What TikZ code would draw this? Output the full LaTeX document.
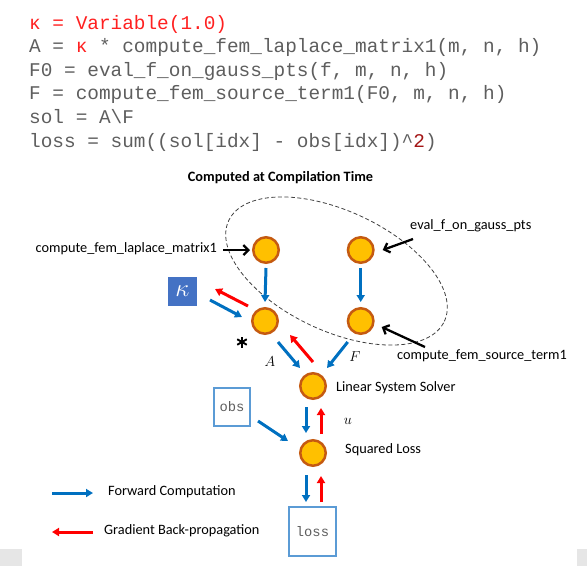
\documentclass[tikz,border=0pt]{standalone}
\usepackage{fontspec}
\setmainfont{Carlito}
\newfontfamily\codefont{Liberation Mono}
\usetikzlibrary{arrows.meta,shapes.geometric,calc}
\definecolor{fwdblue}{HTML}{0070C0}
\definecolor{backred}{HTML}{FF0000}
\definecolor{nodefill}{HTML}{FFC000}
\definecolor{nodeborder}{HTML}{C55A11}
\definecolor{boxblue}{HTML}{5B9BD5}
\definecolor{kapblue}{HTML}{4472C4}
\definecolor{codegray}{HTML}{5E5E5E}
\definecolor{codered}{HTML}{FF2020}
\definecolor{numred}{HTML}{A31515}
\definecolor{bargray}{HTML}{E6E6E6}
\tikzset{
  op/.style={circle,fill=nodefill,draw=nodeborder,line width=2.5pt,minimum size=25.5pt,inner sep=0pt},
  codeline/.style={anchor=base west,inner sep=0pt,text=codegray,font=\codefont\fontsize{19.4}{23.6}\selectfont},
  lbl/.style={inner sep=0pt,font=\fontsize{14.3}{17}\selectfont},
  mlbl/.style={inner sep=0pt,font=\fontsize{14.3}{17}\selectfont},
  varbox/.style={draw=boxblue,line width=1.2pt,inner sep=0pt,text=codegray,font=\codefont\fontsize{13.8}{16}\selectfont},
  fwd/.style={draw=fwdblue,line width=3pt,-{Triangle[length=7pt,width=8pt]}},
  bwd/.style={draw=backred,line width=3pt,-{Triangle[length=7pt,width=8pt]}},
  blk/.style={draw=black,line width=2.3pt,-{Straight Barb[length=5pt,width=10pt]}},
  spoke/.style={draw=black,line width=1.9pt},
}
\begin{document}
\begin{tikzpicture}[x=1pt,y=-1pt]
\useasboundingbox (0,0) rectangle (587,566);
% bottom gray bars
\fill[bargray] (0,549) rectangle (22,566);
\fill[bargray] (577,549) rectangle (587,566);
% code
\node[codeline] (c1) at (29,29) {\textcolor{codered}{κ = Variable(1.0)}};
\node[codeline] (c2) at (29,52.6) {A = \textcolor{codered}{κ} * compute\_fem\_laplace\_matrix1(m, n, h)};
\node[codeline] (c3) at (29,76.2) {F0 = eval\_f\_on\_gauss\_pts(f, m, n, h)};
\node[codeline] (c4) at (29,99.8) {F = compute\_fem\_source\_term1(F0, m, n, h)};
\node[codeline] (c5) at (29,123.4) {sol = A\textbackslash F};
\node[codeline] (c6) at (29,147) {loss = sum((sol[idx] - obs[idx])\textasciicircum\textcolor{numred}{2})};
% title
\node[lbl,font=\bfseries\fontsize{14.3}{17}\selectfont,anchor=mid] (title) at (280.5,179) {Computed at Compilation Time};
% ellipse
\node[draw=black!75,dashed,dash pattern=on 4pt off 2.5pt,line width=0.8pt,ellipse,minimum width=238pt,minimum height=120pt,inner sep=0pt,rotate=-25] (ell) at (336.5,271) {};
% operation nodes
\node[op] (n1) at (266,250) {};
\node[op] (n2) at (360.7,250) {};
\node[op] (n3) at (265,321) {};
\node[op] (n4) at (360.7,321) {};
\node[op] (n5) at (313,386) {};
\node[op] (n6) at (313,453) {};
% boxes
\node[fill=kapblue,minimum size=29pt,inner sep=0pt,text=white,font=\fontsize{32}{32}\selectfont] (kap) at (182.5,291.5) {$\kappa$};
\node[varbox,minimum width=36pt,minimum height=38pt] (obs) at (232,407) {obs};
\node[varbox,minimum width=47pt,minimum height=49pt] (lossb) at (312.5,531.5) {loss};
% labels
\node[lbl,anchor=mid east] (lapl) at (217,250) {compute\_fem\_laplace\_matrix1};
\node[lbl,anchor=mid west] (evl) at (410,227) {eval\_f\_on\_gauss\_pts};
\node[lbl,anchor=mid west] (src) at (397,357) {compute\_fem\_source\_term1};
\node[lbl,anchor=mid west] (lss) at (336,389) {Linear System Solver};
\node[lbl,anchor=mid west] (sql) at (345,451) {Squared Loss};
\node[mlbl] (lA) at (270,362) {$A$};
\node[mlbl] (lF) at (355,357) {$F$};
\node[mlbl] (lu) at (348,421) {$u$};
% asterisk (multiplication mark)
\coordinate (ast) at (242,342);
\foreach \a in {90,30,150}{
  \draw[spoke] ([shift={(\a:5.5)}]ast) -- ([shift={(\a+180:5.5)}]ast);
}
% legend
\node[lbl,anchor=mid west] (fwdl) at (108,493) {Forward Computation};
\node[lbl,anchor=mid west] (bwdl) at (104,532) {Gradient Back-propagation};
% black pointer arrows
\draw[blk] ([xshift=6pt]lapl.mid east) -- ([xshift=-2pt]n1.west);
\draw[blk] ([shift={(3,12)}]evl.mid west) -- ([shift={(22,0)}]n2.center);
\draw[blk] ([shift={(28,-10)}]src.mid west) -- ([shift={(21,6)}]n4.center);
% vertical forward arrows in ellipse
\draw[fwd] ([shift={(0,18)}]n1.center) -- ([shift={(0,-19)}]n3.center);
\draw[fwd] ([shift={(0,18)}]n2.center) -- ([shift={(0,-19)}]n4.center);
% kappa <-> n3
\draw[fwd] ([shift={(27.5,8.5)}]kap.center) -- ([shift={(-23,-4)}]n3.center);
\draw[bwd] ([shift={(-17,-15)}]n3.center) -- ([shift={(32.5,-2.5)}]kap.center);
% n3, n4 -> n5
\draw[fwd] ([shift={(13,21)}]n3.center) -- ([shift={(-13,-18)}]n5.center);
\draw[bwd] ([shift={(0,-24)}]n5.center) -- ([shift={(25,14)}]n3.center);
\draw[fwd] ([shift={(-13,21)}]n4.center) -- ([shift={(14,-18)}]n5.center);
% n5 <-> n6
\draw[fwd] ([shift={(-7,21)}]n5.center) -- ([shift={(-7,-20)}]n6.center);
\draw[bwd] ([shift={(8,-19)}]n6.center) -- ([shift={(8,22)}]n5.center);
% obs -> n6
\draw[fwd] ([shift={(26,14)}]obs.center) -- ([shift={(-25,-12)}]n6.center);
% n6 <-> loss box
\draw[fwd] ([shift={(-7,22)}]n6.center) -- ([shift={(-6.5,-29.5)}]lossb.center);
\draw[bwd] ([shift={(8.5,-29.5)}]lossb.center) -- ([shift={(8,23)}]n6.center);
% legend arrows
\draw[fwd] ([xshift=-56pt]fwdl.mid west) -- ([xshift=-15pt]fwdl.mid west);
\draw[bwd] ([xshift=-11pt]bwdl.mid west) -- ([xshift=-52pt]bwdl.mid west);
\end{tikzpicture}
\end{document}
